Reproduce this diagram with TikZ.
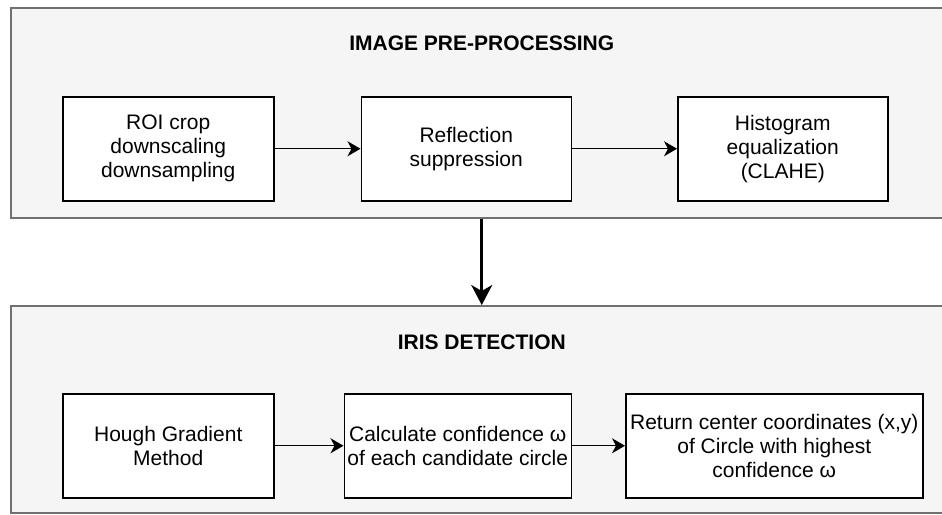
\documentclass[tikz,border=0pt]{standalone}
\usepackage{fontspec}
\setmainfont{Liberation Sans}
\usetikzlibrary{positioning,arrows.meta}

\definecolor{panelfill}{HTML}{F5F5F5}
\definecolor{panelgray}{HTML}{707070}

\tikzset{
  panel/.style={draw=panelgray, fill=panelfill, line width=1.5pt, minimum width=942pt, inner sep=0pt, anchor=north west},
  stage/.style={draw, fill=white, line width=1.5pt, minimum height=104pt, inner sep=3pt, align=center, font=\fontsize{21}{24}\selectfont},
  paneltitle/.style={font=\fontsize{21}{24}\selectfont\bfseries},
  flow/.style={-{Stealth[length=13pt, width=15pt, inset=4pt]}, line width=1.3pt},
  bigflow/.style={-{Stealth[length=20pt, width=21pt, inset=6pt]}, line width=2.6pt}
}

\begin{document}
\begin{tikzpicture}[x=1pt, y=-1pt]

  \useasboundingbox (0,0) rectangle (942,514);
  \clip (0,0) rectangle (942,514);

  \node (pre) [panel, minimum height=210pt] at (10,7) {};
  \node (iris) [panel, minimum height=207pt] at (10,305) {};

  \node (preTitle) [paneltitle] at ([yshift=-36pt]pre.north) {IMAGE PRE-PROCESSING};
  \node (irisTitle) [paneltitle] at ([yshift=-37pt]iris.north) {IRIS DETECTION};

  \node (roi) [stage, minimum width=211pt, anchor=north west] at (62,96) {ROI crop\\downscaling\\downsampling};
  \node (refl) [stage, minimum width=210pt, right=86pt of roi] {Reflection\\suppression};
  \node (clahe) [stage, minimum width=210pt, right=105pt of refl] {Histogram\\equalization\\(CLAHE)};

  \node (hough) [stage, minimum width=211pt, anchor=north west] at (62,393) {Hough Gradient\\Method};
  \node (conf) [stage, minimum width=227pt, right=69pt of hough] {Calculate confidence ω\\of each candidate circle};
  \node (ret) [stage, minimum width=297pt, right=53pt of conf] {Return center coordinates (x,y)\\of Circle with highest\\confidence ω};

  \draw [flow] (roi) -- (refl);
  \draw [flow] (refl) -- (clahe);

  \draw [flow] (hough) -- (conf);
  \draw [flow] (conf) -- (ret);

  \draw [bigflow] (pre) -- (iris);

\end{tikzpicture}
\end{document}
